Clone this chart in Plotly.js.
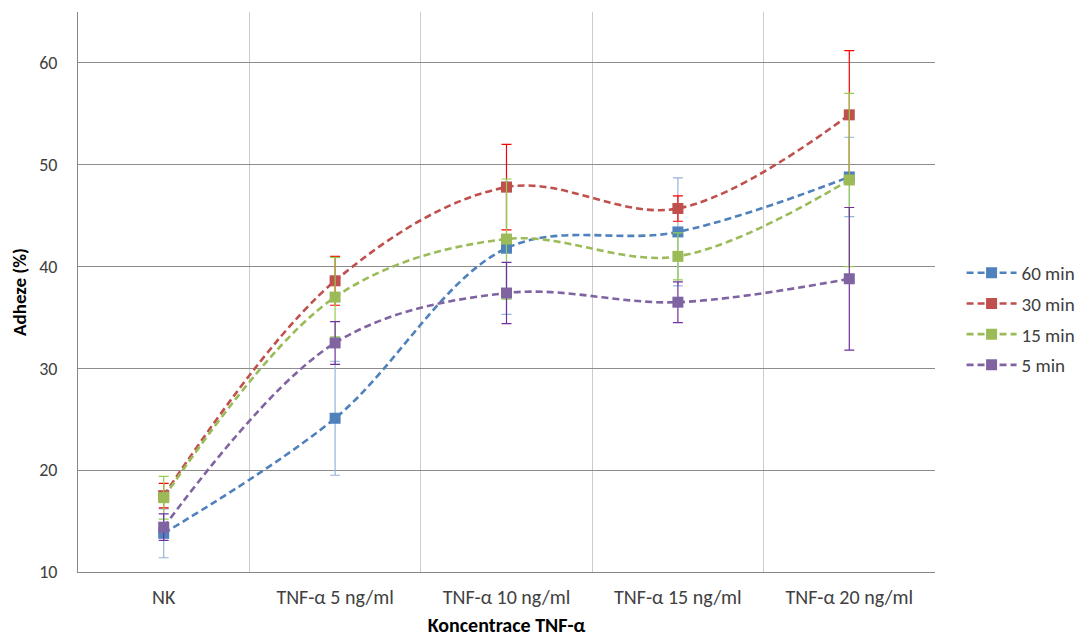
<!DOCTYPE html>
<html>
<head>
<meta charset="utf-8">
<script src="https://cdn.plot.ly/plotly-3.0.1.min.js"></script>
<style>html,body{margin:0;padding:0;background:#fff}#chart{width:1083px;height:637px}</style>
</head>
<body>
<div id="chart"></div>
<script>
const categories = ["NK", "TNF-α 5 ng/ml", "TNF-α 10 ng/ml", "TNF-α 15 ng/ml", "TNF-α 20 ng/ml"];
const seriesNames = ["60 min", "30 min", "15 min", "5 min"];
const values60 = [13.8, 25.1, 41.8, 43.4, 48.8];
const errors60 = [2.4, 5.6, 6.5, 5.3, 3.9];
const values30 = [17.5, 38.6, 47.8, 45.7, 54.9];
const errors30 = [1.2, 2.4, 4.2, 1.25, 6.3];
const values15 = [17.3, 37.0, 42.7, 41.0, 48.5];
const errors15 = [2.1, 3.9, 5.9, 2.3, 8.5];
const values5 = [14.4, 32.5, 37.4, 36.5, 38.8];
const errors5 = [1.3, 2.1, 3.0, 2.0, 7.0];

const lineColors = ["#4F81BD", "#C0504D", "#9BBB59", "#8064A2"];
const errColors = ["#95B3D7", "#FF0000", "#92D050", "#7030A0"];
const allValues = [values60, values30, values15, values5];
const allErrors = [errors60, errors30, errors15, errors5];

const font = "Carlito, Lato, 'Liberation Sans', sans-serif";

const traces = allValues.map((vals, i) => ({
  type: "scatter",
  mode: "lines+markers",
  name: seriesNames[i],
  legendgroup: "g" + i,
  x: categories,
  y: vals,
  line: {color: lineColors[i], width: 2.6, dash: "7px,4px", shape: "spline", smoothing: 1},
  marker: {symbol: "square", size: 11, color: lineColors[i]},
  error_y: {type: "data", array: allErrors[i], visible: true, color: errColors[i], thickness: 1.2, width: 5}
}));

const layout = {
  width: 1083, height: 637,
  margin: {l: 78, r: 148, t: 12, b: 65, autoexpand: false},
  paper_bgcolor: "#fff", plot_bgcolor: "#fff",
  font: {family: font, size: 19, color: "#404040"},
  showlegend: true,
  legend: {x: 1.031, y: 0.452, xanchor: "left", yanchor: "middle", font: {size: 19, color: "#404040"}, tracegroupgap: 3, itemwidth: 50},
  xaxis: {
    type: "category",
    range: [-0.5, 4.5],
    tickson: "boundaries",
    showgrid: true, gridcolor: "#CCCCCC", gridwidth: 1,
    showline: true, linecolor: "#868686", linewidth: 1,
    ticks: "", zeroline: false,
    tickfont: {size: 20, color: "#404040"},
    ticklabelstandoff: 7,
    title: {text: "<b>Koncentrace TNF-α</b>", font: {size: 20, color: "#000"}, standoff: 11}
  },
  yaxis: {
    range: [10, 65],
    tickvals: [10, 20, 30, 40, 50, 60],
    showgrid: true, gridcolor: "#8C8C8C", gridwidth: 1,
    showline: true, linecolor: "#868686", linewidth: 1,
    zeroline: false, ticks: "",
    tickfont: {size: 18, color: "#404040"},
    ticklabelstandoff: 16,
    title: {text: "<b>Adheze (%)</b>", font: {size: 19, color: "#000"}, standoff: 7}
  }
};

Plotly.newPlot("chart", traces, layout, {staticPlot: true});
</script>
</body>
</html>
